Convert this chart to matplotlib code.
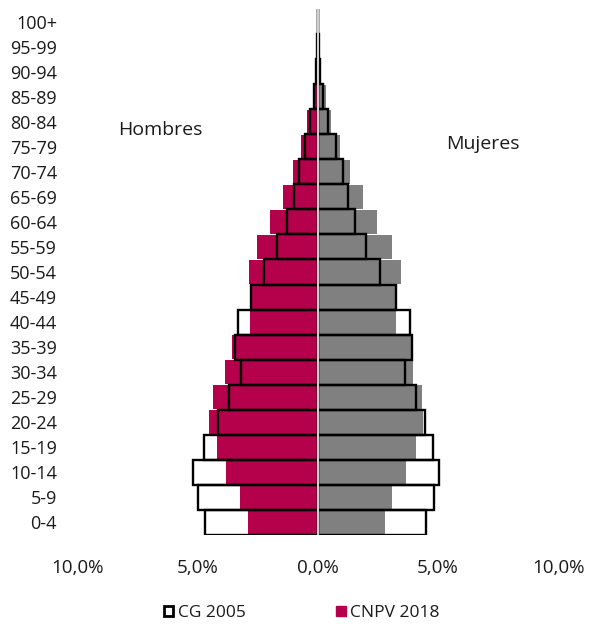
# -*- coding: utf-8 -*-

import matplotlib
matplotlib.use('Agg')
import matplotlib.pyplot as plt
from matplotlib.patches import Patch
from matplotlib.ticker import FuncFormatter

# Grupos de edad (de abajo hacia arriba)
AGES = ['0-4', '5-9', '10-14', '15-19', '20-24', '25-29', '30-34', '35-39',
        '40-44', '45-49', '50-54', '55-59', '60-64', '65-69', '70-74', '75-79',
        '80-84', '85-89', '90-94', '95-99', '100+']

# % de la poblacion total - CNPV 2018
MEN_2018 = [2.92, 3.24, 3.82, 4.22, 4.53, 4.36, 3.88, 3.60, 2.83, 2.80, 2.88,
            2.53, 1.99, 1.47, 1.04, 0.72, 0.44, 0.22, 0.09, 0.03, 0.01]
WOMEN_2018 = [2.80, 3.10, 3.67, 4.07, 4.38, 4.35, 3.96, 3.88, 3.24, 3.22, 3.44,
              3.10, 2.47, 1.86, 1.32, 0.90, 0.54, 0.33, 0.14, 0.04, 0.01]

# % de la poblacion total - CG 2005
MEN_2005 = [4.70, 5.00, 5.22, 4.76, 4.18, 3.70, 3.21, 3.46, 3.35, 2.80, 2.24,
            1.72, 1.28, 1.00, 0.78, 0.53, 0.33, 0.17, 0.10, 0.03, 0.01]
WOMEN_2005 = [4.51, 4.83, 5.04, 4.79, 4.46, 4.07, 3.64, 3.93, 3.82, 3.24, 2.58,
              2.01, 1.53, 1.25, 1.04, 0.74, 0.40, 0.20, 0.10, 0.03, 0.01]

X_TICKS = [-10, -5, 0, 5, 10]

CRIMSON = '#B5004B'
GRAY = '#808080'

plt.rcParams['font.family'] = ['Open Sans', 'DejaVu Sans']


def pct_label(v, pos):
    # etiquetas tipo Excel: 10,0%
    return '{:.1f}%'.format(abs(v)).replace('.', ',')


def plot_graph():
    fig = plt.figure(figsize=(5.95, 6.24), dpi=100)
    ax = fig.add_axes([0.131, 0.1426, 0.807, 0.843])

    y = list(range(len(AGES)))

    ax.barh(y, [-v for v in MEN_2018], height=0.95, color=CRIMSON, zorder=2)
    ax.barh(y, WOMEN_2018, height=0.95, color=GRAY, zorder=2)

    ax.barh(y, [-v for v in MEN_2005], height=1.0, fill=False,
            edgecolor='black', linewidth=1.7, zorder=3)
    ax.barh(y, WOMEN_2005, height=1.0, fill=False,
            edgecolor='black', linewidth=1.7, zorder=3)

    ax.axvline(0, color='#CFCFCF', linewidth=1.5, zorder=4)

    ax.set_xlim(-10, 10)
    ax.set_ylim(-0.5, len(AGES) - 0.5)
    ax.set_xticks(X_TICKS)
    ax.xaxis.set_major_formatter(FuncFormatter(pct_label))
    ax.set_yticks(y)
    ax.set_yticklabels(AGES)
    ax.tick_params(axis='y', length=0, pad=15, labelsize=13, colors='#1a1a1a')
    ax.tick_params(axis='x', length=0, pad=17, labelsize=13.5, colors='#1a1a1a')
    for s in ax.spines.values():
        s.set_visible(False)

    ax.text(-6.55, 15.65, 'Hombres', fontsize=14, ha='center', va='center',
            color='#1a1a1a')
    ax.text(6.85, 15.1, 'Mujeres', fontsize=14, ha='center', va='center',
            color='#1a1a1a')

    handles = [Patch(facecolor='white', edgecolor='black', linewidth=2.0),
               Patch(facecolor=CRIMSON, edgecolor=CRIMSON)]
    fig.legend(handles, ['CG 2005', 'CNPV 2018'], loc='center',
               bbox_to_anchor=(0.507, 0.017), ncol=2, frameon=False,
               fontsize=12.5, handlelength=0.55, handleheight=0.55,
               handletextpad=0.25, columnspacing=5.2, labelcolor='#1a1a1a',
               borderpad=0.1)

    fig.savefig('out.png', dpi=100)


def main():
    plot_graph()


if __name__ == "__main__":
    main()
